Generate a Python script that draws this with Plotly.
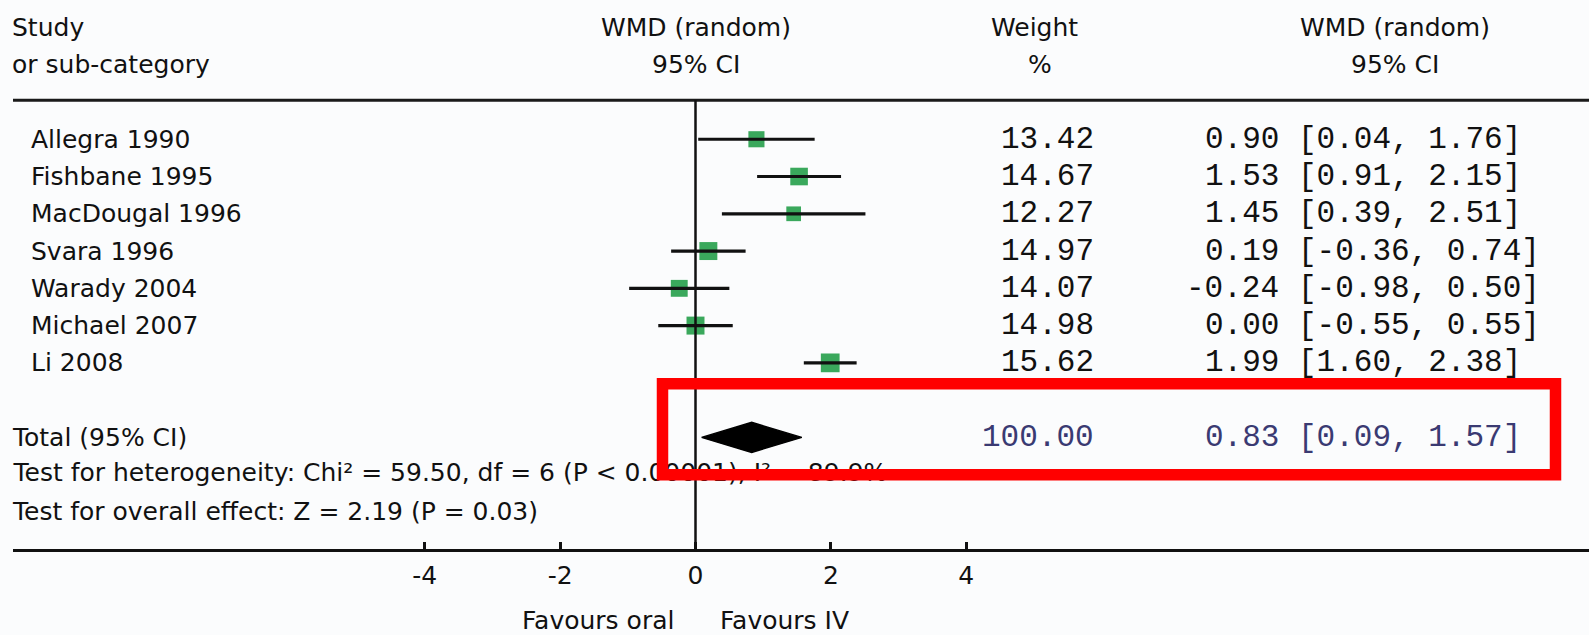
import plotly.graph_objects as go

# ---------------- data ----------------
studies = ["Allegra 1990", "Fishbane 1995", "MacDougal 1996", "Svara 1996",
           "Warady 2004", "Michael 2007", "Li 2008"]
weights = [13.42, 14.67, 12.27, 14.97, 14.07, 14.98, 15.62]
wmd = [0.90, 1.53, 1.45, 0.19, -0.24, 0.00, 1.99]
ci_low = [0.04, 0.91, 0.39, -0.36, -0.98, -0.55, 1.60]
ci_high = [1.76, 2.15, 2.51, 0.74, 0.50, 0.55, 2.38]

total_label = "Total (95% CI)"
total_weight = 100.00
total_wmd = 0.83
total_low = 0.09
total_high = 1.57

het_text = "Test for heterogeneity: Chi² = 59.50, df = 6 (P < 0.00001), I² = 89.9%"
overall_text = "Test for overall effect: Z = 2.19 (P = 0.03)"

tick_values = [-4, -2, 0, 2, 4]
tick_labels = ["-4", "-2", "0", "2", "4"]
favours_left = "Favours oral"
favours_right = "Favours IV"

# ---------------- layout constants ----------------
W, H = 1589, 635
ZERO_PX = 695.5      # pixel x of WMD = 0
PX_PER_UNIT = 67.7   # pixels per WMD unit
ROW0_PX = 139        # pixel y of the first study row
ROW_PX = 37.2        # row spacing in pixels
PLOT_L = 13
AXIS_PX = 548        # pixel y of the bottom axis line

SANS = "DejaVu Sans"
MONO = "Liberation Mono"
MONO_SIZE = 31
TXT = "#111111"
TOTAL_CLR = "#3a3a72"
GREEN = "#3aa85c"
BG = "#fbfcfd"


def xpaper(px):
    return (px - PLOT_L) / (W - PLOT_L)


def xdata(px):
    return (px - ZERO_PX) / PX_PER_UNIT


def yrow(py):
    return (py - ROW0_PX) / ROW_PX


rows = list(range(len(studies)))
total_row = len(studies) + 1
het_row = total_row + 1
overall_row = het_row + 1

fig = go.Figure()

# study squares
fig.add_trace(go.Scatter(
    x=wmd, y=rows, mode="markers",
    marker=dict(symbol="square", size=[w * 1.2 for w in weights], color=GREEN,
                opacity=1, line=dict(width=0)),
    hoverinfo="skip", showlegend=False))

# confidence interval whiskers
wx, wy = [], []
for lo, hi, r in zip(ci_low, ci_high, rows):
    wx += [lo, hi, None]
    wy += [r, r, None]
fig.add_trace(go.Scatter(x=wx, y=wy, mode="lines",
                         line=dict(color="#111111", width=3.2),
                         hoverinfo="skip", showlegend=False))

# pooled diamond
half_h = 15 / ROW_PX
fig.add_trace(go.Scatter(
    x=[total_low, total_wmd, total_high, total_wmd, total_low],
    y=[total_row, total_row - half_h, total_row, total_row + half_h, total_row],
    mode="lines", fill="toself", fillcolor="#000000",
    line=dict(color="#000000", width=1.5), hoverinfo="skip", showlegend=False))

# heterogeneity line as trace text (so the highlight box can overlap it)
fig.add_trace(go.Scatter(
    x=[xdata(PLOT_L + 0.5)], y=[het_row], mode="text", text=[het_text],
    textposition="middle right", cliponaxis=False,
    textfont=dict(family=SANS, size=25, color=TXT),
    hoverinfo="skip", showlegend=False))

ann = []


def add_text(text, x, y, xanchor="left", font=SANS, size=25, color=TXT,
             xref="paper", yref="y"):
    ann.append(dict(text=text, x=x, y=y, xref=xref, yref=yref,
                    xanchor=xanchor, yanchor="middle", showarrow=False,
                    borderpad=0, borderwidth=0,
                    font=dict(family=font, size=size, color=color)))


# headers
add_text("Study", xpaper(12), -3)
add_text("or sub-category", xpaper(12), -2)
add_text("WMD (random)", 0, -3, xanchor="center", xref="x")
add_text("95% CI", 0, -2, xanchor="center", xref="x")
add_text("Weight", xpaper(1034), -3, xanchor="center")
add_text("%", xpaper(1040), -2, xanchor="center")
add_text("WMD (random)", xpaper(1395), -3, xanchor="center")
add_text("95% CI", xpaper(1395), -2, xanchor="center")

# study rows
for s, w, e, lo, hi, r in zip(studies, weights, wmd, ci_low, ci_high, rows):
    add_text(s, xpaper(31), r)
    add_text(f"{w:.2f}", xpaper(1094), r, xanchor="right", font=MONO, size=MONO_SIZE)
    add_text(f"{e:.2f}", xpaper(1279), r, xanchor="right", font=MONO, size=MONO_SIZE)
    add_text(f"[{lo:.2f}, {hi:.2f}]", xpaper(1298), r, xanchor="left",
             font=MONO, size=MONO_SIZE)

# total row
add_text(total_label, xpaper(12), total_row)
add_text(f"{total_weight:.2f}", xpaper(1094), total_row, xanchor="right",
         font=MONO, size=MONO_SIZE, color=TOTAL_CLR)
add_text(f"{total_wmd:.2f}", xpaper(1279), total_row, xanchor="right",
         font=MONO, size=MONO_SIZE, color=TOTAL_CLR)
add_text(f"[{total_low:.2f}, {total_high:.2f}]", xpaper(1298), total_row,
         xanchor="left", font=MONO, size=MONO_SIZE, color=TOTAL_CLR)

add_text(overall_text, xpaper(12), overall_row)

# favours labels below axis
fav_y = (AXIS_PX - 619) / AXIS_PX
for txt, xoff, anchor in [(favours_left, -22, "right"), (favours_right, 24, "left")]:
    ann.append(dict(text=txt, x=xoff / PX_PER_UNIT, y=fav_y, xref="x", yref="paper",
                    xanchor=anchor, yanchor="middle", showarrow=False,
                    borderpad=0, borderwidth=0,
                    font=dict(family=SANS, size=25, color=TXT)))

shapes = [
    # top rule
    dict(type="line", xref="paper", yref="y", x0=0, x1=1,
         y0=yrow(100), y1=yrow(100), line=dict(color="#1a1a1a", width=3)),
    # line of no effect
    dict(type="line", xref="x", yref="y", x0=0, x1=0,
         y0=yrow(100), y1=yrow(AXIS_PX), line=dict(color="#111111", width=2.5)),
    # red highlight box
    dict(type="rect", xref="paper", yref="y", layer="above",
         x0=xpaper(662.5), x1=xpaper(1555.5), y0=yrow(383), y1=yrow(474),
         line=dict(color="#ff0000", width=11.5), fillcolor="rgba(0,0,0,0)"),
]

fig.update_layout(
    width=W, height=H,
    margin=dict(l=PLOT_L, r=0, t=0, b=H - AXIS_PX - 1.5),
    paper_bgcolor=BG, plot_bgcolor=BG,
    showlegend=False,
    annotations=ann, shapes=shapes,
    xaxis=dict(range=[xdata(PLOT_L), xdata(W)], showgrid=False, zeroline=False,
               showline=True, linecolor="#111111", linewidth=3,
               ticks="inside", ticklen=7, tickwidth=2.5, tickcolor="#111111",
               tickvals=tick_values, ticktext=tick_labels,
               tickfont=dict(family=SANS, size=25, color=TXT),
               ticklabelstandoff=2, fixedrange=True),
    yaxis=dict(range=[yrow(AXIS_PX), yrow(0)], visible=False, fixedrange=True),
)

fig.write_html("out.html", config={"displayModeBar": False},
               post_script="document.body.style.margin='0';document.body.style.overflow='hidden';")
